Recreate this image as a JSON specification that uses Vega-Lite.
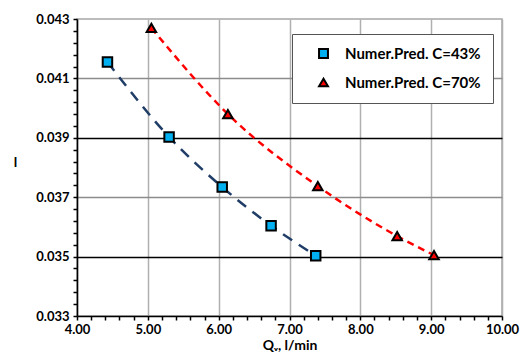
{
  "$schema": "https://vega.github.io/schema/vega-lite/v6.json",
  "width": 425,
  "height": 297,
  "autosize": "none",
  "padding": {"left": 77, "top": 19, "right": 20, "bottom": 46},
  "background": "white",
  "config": {
    "view": {"stroke": "#a6a6a6", "strokeWidth": 1.5},
    "font": "Lato"
  },
  "data": {
    "values": [
      {"series": "Numer.Pred. C=43%", "Q": 4.43, "l": 0.04155},
      {"series": "Numer.Pred. C=43%", "Q": 5.30, "l": 0.03903},
      {"series": "Numer.Pred. C=43%", "Q": 6.05, "l": 0.03734},
      {"series": "Numer.Pred. C=43%", "Q": 6.74, "l": 0.03604},
      {"series": "Numer.Pred. C=43%", "Q": 7.37, "l": 0.03503},
      {"series": "Numer.Pred. C=70%", "Q": 5.05, "l": 0.04270},
      {"series": "Numer.Pred. C=70%", "Q": 6.13, "l": 0.03980},
      {"series": "Numer.Pred. C=70%", "Q": 7.40, "l": 0.03737},
      {"series": "Numer.Pred. C=70%", "Q": 8.52, "l": 0.03569},
      {"series": "Numer.Pred. C=70%", "Q": 9.04, "l": 0.03505}
    ]
  },
  "encoding": {
    "x": {
      "field": "Q", "type": "quantitative",
      "scale": {"domain": [4, 10], "nice": false, "zero": false},
      "axis": {
        "orient": "bottom",
        "values": [4, 4.2, 4.4, 4.6, 4.8, 5, 5.2, 5.4, 5.6, 5.8, 6, 6.2, 6.4, 6.6, 6.8, 7, 7.2, 7.4, 7.6, 7.8, 8, 8.2, 8.4, 8.6, 8.8, 9, 9.2, 9.4, 9.6, 9.8, 10],
        "labelExpr": "abs(datum.value - round(datum.value)) < 0.01 ? format(datum.value, '.2f') : ''",
        "labelOverlap": false,
        "labelFlush": false,
        "title": "Qᵥ, l/min",
        "titleFont": "Lato", "titleFontSize": 14, "titleFontWeight": "bold", "titleColor": "black",
        "titlePadding": 2,
        "labelFont": "Lato", "labelFontSize": 13, "labelFontWeight": "bold", "labelColor": "black",
        "labelPadding": 3,
        "domainColor": "black", "domainWidth": 1.5,
        "tickColor": "black", "tickWidth": 1.5, "tickSize": 4,
        "grid": true,
        "gridColor": {"condition": {"test": "abs(datum.value - round(datum.value)) < 0.01", "value": "#b0b0b0"}, "value": "rgba(0,0,0,0)"},
        "gridWidth": 1.5
      }
    },
    "y": {
      "field": "l", "type": "quantitative",
      "scale": {"domain": [0.033, 0.043], "nice": false, "zero": false},
      "axis": {
        "orient": "left",
        "values": [0.033, 0.0334, 0.0338, 0.0342, 0.0346, 0.035, 0.0354, 0.0358, 0.0362, 0.0366, 0.037, 0.0374, 0.0378, 0.0382, 0.0386, 0.039, 0.0394, 0.0398, 0.0402, 0.0406, 0.041, 0.0414, 0.0418, 0.0422, 0.0426, 0.043],
        "labelExpr": "(abs(datum.value*1000 - round(datum.value*1000)) < 0.01 && round(datum.value*1000) % 2 == 1) ? format(datum.value, '.3f') : ''",
        "labelOverlap": false,
        "labelFlush": false,
        "title": "l",
        "titleAngle": 0,
        "titleX": -62, "titleY": 150,
        "titleFont": "Lato", "titleFontSize": 14, "titleFontWeight": "bold", "titleColor": "black",
        "labelFont": "Lato", "labelFontSize": 13, "labelFontWeight": "bold", "labelColor": "black",
        "labelPadding": 4,
        "domainColor": "black", "domainWidth": 1.5,
        "tickColor": "black", "tickWidth": 1.5, "tickSize": 4,
        "grid": true,
        "gridColor": {"condition": [
          {"test": "abs(datum.value - 0.039) < 0.0001 || abs(datum.value - 0.035) < 0.0001", "value": "black"},
          {"test": "abs(datum.value - 0.041) < 0.0001 || abs(datum.value - 0.037) < 0.0001", "value": "#8c8c8c"}
        ], "value": "rgba(0,0,0,0)"},
        "gridWidth": 1.5
      }
    }
  },
  "layer": [
    {
      "transform": [{"filter": "datum.series == 'Numer.Pred. C=43%'"}],
      "mark": {"type": "line", "interpolate": "monotone", "strokeWidth": 2.5, "color": "#1f3d66", "strokeDash": [11, 8]}
    },
    {
      "transform": [{"filter": "datum.series == 'Numer.Pred. C=70%'"}],
      "mark": {"type": "line", "interpolate": "monotone", "strokeWidth": 2.5, "color": "#ff0000", "strokeDash": [7, 5]}
    },
    {
      "mark": {"type": "point", "filled": true, "stroke": "black", "strokeWidth": 2, "opacity": 1, "size": 90},
      "encoding": {
        "fill": {
          "field": "series", "type": "nominal",
          "scale": {"domain": ["Numer.Pred. C=43%", "Numer.Pred. C=70%"], "range": ["#00b0f0", "#ff0000"]},
          "legend": {
            "title": null,
            "orient": "none",
            "legendX": 215, "legendY": 15,
            "fillColor": "white",
            "strokeColor": "#555555",
            "padding": 12,
            "rowPadding": 12,
            "labelFont": "Lato", "labelFontSize": 15, "labelFontWeight": "bold", "labelColor": "black",
            "labelLimit": 300,
            "symbolStrokeColor": "black", "symbolStrokeWidth": 2, "symbolSize": 80,
            "labelOffset": 14,
            "symbolOffset": 12
          }
        },
        "shape": {
          "field": "series", "type": "nominal",
          "scale": {"domain": ["Numer.Pred. C=43%", "Numer.Pred. C=70%"], "range": ["square", "triangle-up"]}
        }
      }
    }
  ]
}
